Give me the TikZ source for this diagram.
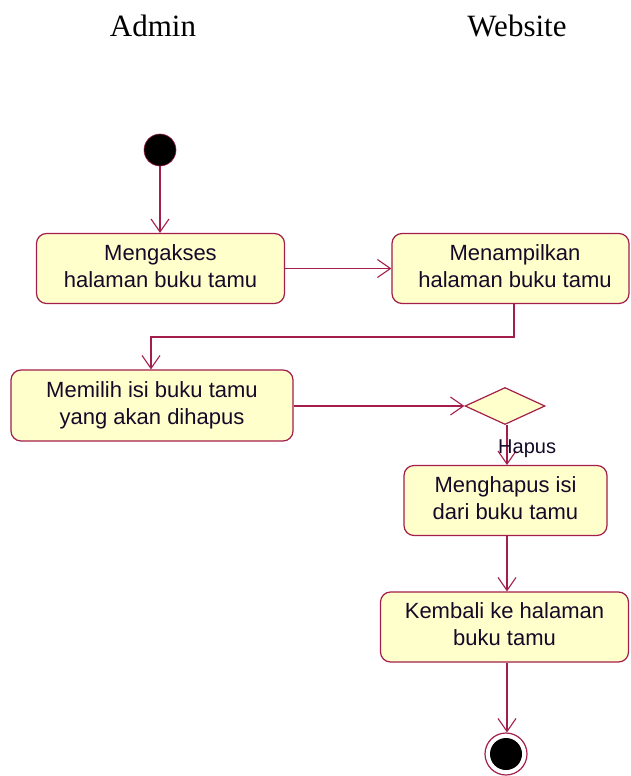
\documentclass[tikz,border=0pt]{standalone}
\usepackage{fontspec}
\setmainfont{Liberation Serif}
\newfontfamily\boxfont{Liberation Sans}
\usetikzlibrary{arrows.meta,shapes.geometric}
\definecolor{umlred}{RGB}{163,30,75}
\definecolor{umlfill}{RGB}{255,255,204}
\definecolor{umltext}{RGB}{20,10,40}
\newcommand{\acttext}[1]{\raisebox{3pt}{\begin{tabular}{@{}c@{}}#1\end{tabular}}}
\tikzset{
  act/.style={draw=umlred, fill=umlfill, line width=1.2pt, rounded corners=10pt,
    inner sep=0pt, align=center, text=umltext,
    font=\boxfont\fontsize{22}{27}\selectfont},
  flow/.style={draw=umlred, line width=1.2pt, -{Straight Barb[length=13pt,width=18pt,line width=1.1pt]}},
  lane/.style={font=\fontsize{31}{36}\selectfont, anchor=base},
  choice/.style={diamond, draw=umlred, fill=umlfill, line width=1.2pt, inner sep=0pt,
    minimum width=80pt, minimum height=37pt, aspect=2.1},
}
\begin{document}
\begin{tikzpicture}[x=1pt,y=-1pt]
\useasboundingbox (0,0) rectangle (630,776);
\node[lane] (admin) at (153,37) {Admin};
\node[lane] (web) at (517,37) {Website};
\node[circle, fill=black, draw=umlred, line width=0.6pt, minimum size=32pt, inner sep=0pt] (start) at (160,150) {};
\node[act, minimum width=248pt, minimum height=70pt] (a1) at (160.5,268.5) {\acttext{Mengakses\\halaman buku tamu}};
\node[act, minimum width=237pt, minimum height=70pt] (a2) at (510.5,268.5) {\hspace*{9pt}\acttext{Menampilkan\\halaman buku tamu}};
\node[act, minimum width=282pt, minimum height=71pt] (a3) at (152,405.5) {\acttext{Memilih isi buku tamu\\yang akan dihapus}};
\node[choice] (d) at (505,406) {};
\node[act, minimum width=203pt, minimum height=70pt] (a4) at (505.5,500.5) {\acttext{Menghapus isi\\dari buku tamu}};
\node[act, minimum width=248pt, minimum height=70pt] (a5) at (504.5,627) {\acttext{Kembali ke halaman\\buku tamu}};
\node[circle, draw=umlred, fill=white, line width=1.2pt, minimum size=42pt, inner sep=0pt] (end) at (506,754) {};
\node[circle, fill=black, minimum size=32pt, inner sep=0pt] (endin) at (end.center) {};
\coordinate (c1) at (514,337);
\coordinate (c2) at (151,337);
\draw[flow] (start) -- (start |- a1.north);
\draw[flow] (a1) -- (a2);
\draw[flow] (a2.south -| c1) -- (c1) -- (c2) -- (c2 |- a3.north);
\draw[flow] (a3.east |- d) -- (d.west);
\draw[flow] (d.south -| 507,0) -- (507,465) coordinate (t4);
\node[anchor=base west, text=umltext, font=\boxfont\fontsize{20}{24}\selectfont, inner sep=0pt] (hapus) at (498,453) {Hapus};
\draw[flow] (a4.south -| 507,0) -- (a5.north -| 507,0);
\draw[flow] (a5.south -| 507,0) -- (end.north -| 507,0);
\end{tikzpicture}
\end{document}
